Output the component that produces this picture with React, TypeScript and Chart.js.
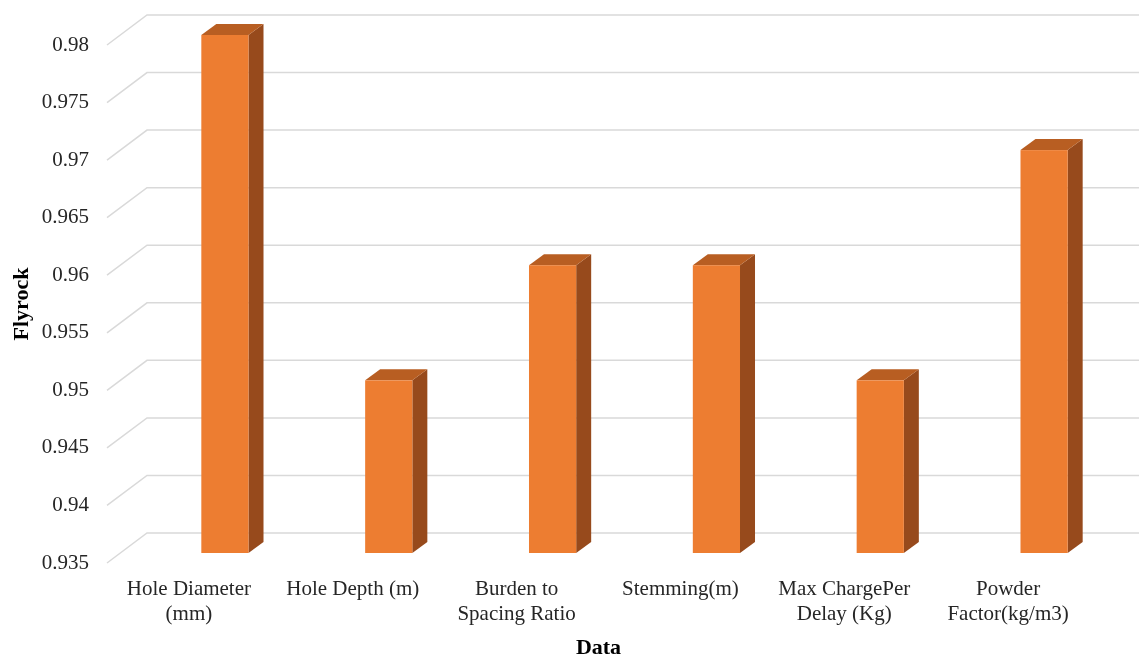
import React, { useEffect, useRef } from "react";
import { Chart, registerables } from "chart.js";

Chart.register(...registerables);

const categories: string[][] = [
  ["Hole Diameter", "(mm)"],
  ["Hole Depth (m)"],
  ["Burden to", "Spacing Ratio"],
  ["Stemming(m)"],
  ["Max ChargePer", "Delay (Kg)"],
  ["Powder", "Factor(kg/m3)"],
];
const flyrockValues: number[] = [0.98, 0.95, 0.96, 0.96, 0.95, 0.97];
const yMin = 0.935;
const yMax = 0.98;
const yStep = 0.005;

const FONT = "'Liberation Serif', 'Times New Roman', serif";

const depthWall = { dx: 40, dy: -30 };
const barShift = { dx: 36, dy: -10 };
const barDepth = { dx: 15, dy: -11 };

const threeD = {
  id: "threeD",
  beforeDatasetsDraw(chart: any) {
    const { ctx, chartArea, scales } = chart;
    const y = scales.y;
    ctx.save();
    ctx.strokeStyle = "#D9D9D9";
    ctx.lineWidth = 1.5;
    y.ticks.forEach((t: any) => {
      const py = y.getPixelForValue(t.value);
      ctx.beginPath();
      ctx.moveTo(chartArea.left, py);
      ctx.lineTo(chartArea.left + depthWall.dx, py + depthWall.dy);
      ctx.lineTo(chart.width, py + depthWall.dy);
      ctx.stroke();
    });
    ctx.restore();
  },
  afterDatasetsDraw(chart: any) {
    const { ctx, scales } = chart;
    const meta = chart.getDatasetMeta(0);
    const basePx = scales.y.getPixelForValue(yMin);
    ctx.save();
    meta.data.forEach((el: any) => {
      const w = el.width;
      const x0 = el.x + barShift.dx - w / 2;
      const x1 = x0 + w;
      const yt = el.y + barShift.dy;
      const yb = basePx + barShift.dy;
      // side
      ctx.fillStyle = "#974A1C";
      ctx.beginPath();
      ctx.moveTo(x1, yt);
      ctx.lineTo(x1 + barDepth.dx, yt + barDepth.dy);
      ctx.lineTo(x1 + barDepth.dx, yb + barDepth.dy);
      ctx.lineTo(x1, yb);
      ctx.closePath();
      ctx.fill();
      // top
      ctx.fillStyle = "#B85E22";
      ctx.beginPath();
      ctx.moveTo(x0, yt);
      ctx.lineTo(x0 + barDepth.dx, yt + barDepth.dy);
      ctx.lineTo(x1 + barDepth.dx, yt + barDepth.dy);
      ctx.lineTo(x1, yt);
      ctx.closePath();
      ctx.fill();
      // front
      ctx.fillStyle = "#ED7D31";
      ctx.fillRect(x0, yt, w, yb - yt);
    });
    ctx.restore();
  },
};

export default function App() {
  const ref = useRef<HTMLCanvasElement>(null);
  useEffect(() => {
    document.body.style.margin = "0";
    const chart = new Chart(ref.current!, {
      type: "bar",
      data: {
        labels: categories,
        datasets: [
          {
            label: "Flyrock",
            data: flyrockValues,
            backgroundColor: "rgba(0,0,0,0)",
            borderWidth: 0,
            barPercentage: 0.288,
            categoryPercentage: 1,
          },
        ],
      },
      options: {
        animation: false,
        responsive: false,
        maintainAspectRatio: false,
        layout: { padding: { top: 45, right: 49, left: 0, bottom: 0 } },
        plugins: { legend: { display: false }, tooltip: { enabled: false } },
        scales: {
          x: {
            grid: { display: false, drawTicks: false },
            border: { display: false },
            ticks: {
              font: { family: FONT, size: 21 },
              color: "#262626",
              padding: 14,
              maxRotation: 0,
              autoSkip: false,
            },
            title: {
              display: true,
              text: "Data",
              font: { family: FONT, size: 22, weight: "bold", lineHeight: 0.8 },
              color: "#000",
              padding: { top: 0, bottom: 0 },
            },
            afterFit: (s: any) => {
              s.height = 94;
            },
          },
          y: {
            min: yMin,
            max: yMax,
            grid: { display: false, drawTicks: false },
            border: { display: false },
            ticks: {
              stepSize: yStep,
              font: { family: FONT, size: 21 },
              color: "#262626",
              padding: 18,
              callback: (v: any) => String(+Number(v).toFixed(3)),
            },
            title: {
              display: true,
              text: "Flyrock",
              font: { family: FONT, size: 22, weight: "bold" },
              color: "#000",
              padding: { top: 9, bottom: 0 },
            },
            afterFit: (s: any) => {
              s.width = 107;
            },
          },
        },
      },
      plugins: [threeD],
    });
    return () => chart.destroy();
  }, []);
  return (
    <div style={{ width: 1139, height: 657, background: "#fff" }}>
      <canvas ref={ref} width={1139} height={657} style={{ display: "block" }} />
    </div>
  );
}
